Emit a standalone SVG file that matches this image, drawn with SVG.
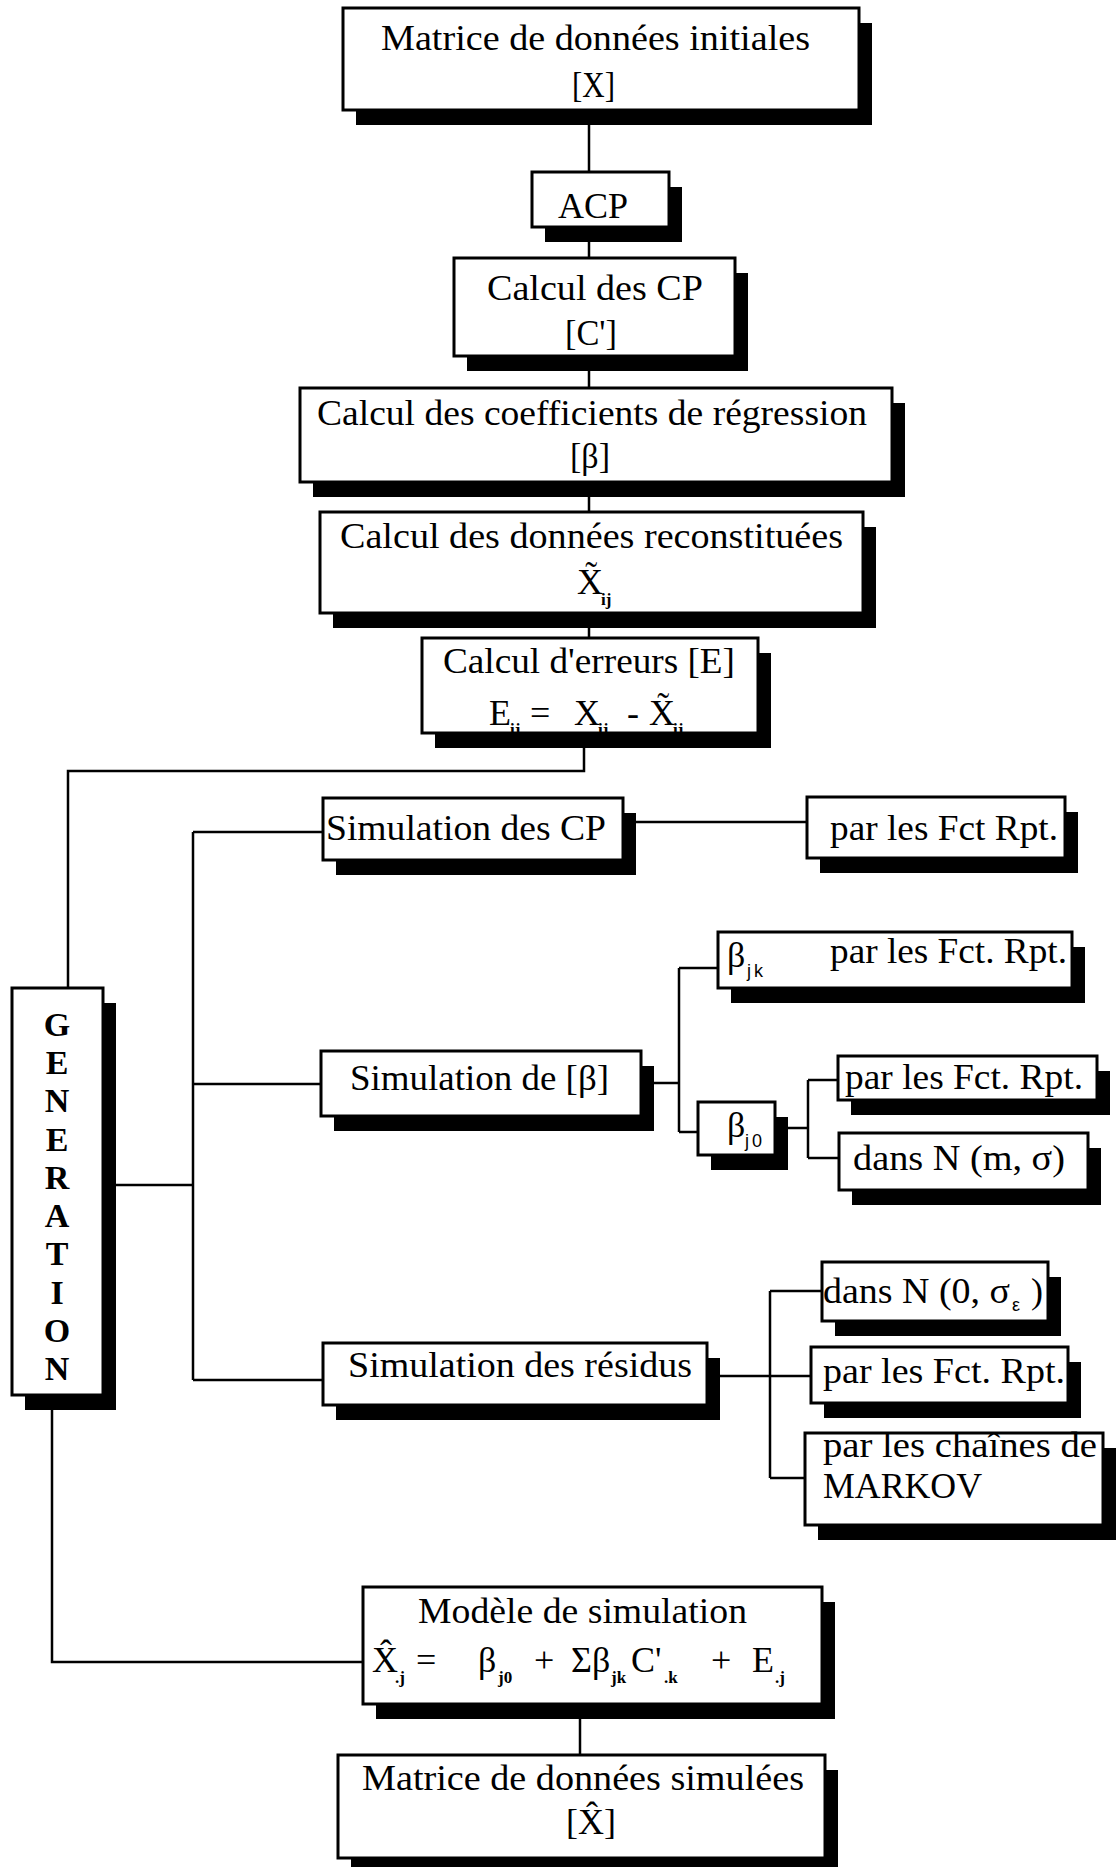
<svg xmlns="http://www.w3.org/2000/svg" width="1116" height="1867" viewBox="0 0 1116 1867">
  <style>
    .box { fill: #fff; stroke: #000; stroke-width: 3; }
    .sh { fill: #000; }
    .ln { fill: none; stroke: #000; stroke-width: 2.5; }
    text { font-family: "Liberation Serif", "Times New Roman", serif; fill: #000; }
    .t { font-size: 36px; }
    .sub { font-size: 17px; font-weight: bold; }
    .gen { font-size: 34px; font-weight: bold; text-anchor: middle; }
    .ssub { font-family: "Liberation Sans", Arial, sans-serif; font-size: 18px; letter-spacing: 3px; }
  </style>
  <rect width="1116" height="1867" fill="#fff"/>

  <!-- connectors -->
  <g id="connectors" class="ln">
    <path d="M589 110 V172 M589 227 V258 M589 356 V388 M589 482 V512 M589 613 V638"/>
    <path d="M584 733 V771 H68 V988"/>
    <path d="M116 1185 H193 M193 832 V1380 M193 832 H323 M193 1084 H321 M193 1380 H323"/>
    <path d="M636 822 H807"/>
    <path d="M654 1083 H679 M679 968 V1132 M679 968 H718 M679 1132 H698"/>
    <path d="M788 1128 H808 M808 1080 V1158 M808 1080 H838 M808 1158 H839"/>
    <path d="M720 1376 H811 M770 1291 V1478 M770 1291 H822 M770 1478 H805"/>
    <path d="M52 1395 V1662 H363"/>
    <path d="M580 1704 V1755"/>
  </g>

  <!-- initial data matrix -->
  <g id="n-matrice-init">
    <rect class="sh" x="356" y="23" width="516" height="102"/>
    <rect class="box" x="343" y="8" width="516" height="102"/>
    <text class="t" x="381" y="50" textLength="429" lengthAdjust="spacingAndGlyphs">Matrice de données initiales</text>
    <text class="t" x="572" y="97" textLength="43" lengthAdjust="spacingAndGlyphs">[X]</text>
  </g>

  <g id="n-acp">
    <rect class="sh" x="545" y="187" width="137" height="55"/>
    <rect class="box" x="532" y="172" width="137" height="55"/>
    <text class="t" x="558" y="218" textLength="70" lengthAdjust="spacingAndGlyphs">ACP</text>
  </g>

  <g id="n-calcul-cp">
    <rect class="sh" x="467" y="273" width="281" height="98"/>
    <rect class="box" x="454" y="258" width="281" height="98"/>
    <text class="t" x="487" y="300" textLength="216" lengthAdjust="spacingAndGlyphs">Calcul des CP</text>
    <text class="t" x="565" y="345" textLength="52" lengthAdjust="spacingAndGlyphs">[C']</text>
  </g>

  <g id="n-coefficients">
    <rect class="sh" x="313" y="403" width="592" height="94"/>
    <rect class="box" x="300" y="388" width="592" height="94"/>
    <text class="t" x="317" y="425" textLength="550" lengthAdjust="spacingAndGlyphs">Calcul des coefficients de régression</text>
    <text class="t" x="570" y="468" textLength="40" lengthAdjust="spacingAndGlyphs">[β]</text>
  </g>

  <g id="n-reconstituees">
    <rect class="sh" x="333" y="527" width="543" height="101"/>
    <rect class="box" x="320" y="512" width="543" height="101"/>
    <text class="t" x="340" y="548" textLength="503" lengthAdjust="spacingAndGlyphs">Calcul des données reconstituées</text>
    <text class="t" x="577" y="594">X̃</text>
    <text class="sub" x="601" y="605">ij</text>
  </g>

  <g id="n-erreurs">
    <rect class="sh" x="435" y="653" width="336" height="95"/>
    <rect class="box" x="422" y="638" width="336" height="95"/>
    <text class="t" x="443" y="673" textLength="292" lengthAdjust="spacingAndGlyphs">Calcul d'erreurs [E]</text>
    <text class="t" x="489" y="725">E</text>
    <text class="sub" x="510" y="735">ij</text>
    <text class="t" x="530" y="725">=</text>
    <text class="t" x="574" y="725">X</text>
    <text class="sub" x="598" y="735">ij</text>
    <text class="t" x="627" y="725">-</text>
    <text class="t" x="649" y="725">X̃</text>
    <text class="sub" x="673" y="735">ij</text>
  </g>

  <g id="n-generation">
    <rect class="sh" x="25" y="1003" width="91" height="407"/>
    <rect class="box" x="12" y="988" width="91" height="407"/>
    <text class="gen" x="57" y="1036">G</text>
    <text class="gen" x="57" y="1074">E</text>
    <text class="gen" x="57" y="1112">N</text>
    <text class="gen" x="57" y="1151">E</text>
    <text class="gen" x="57" y="1189">R</text>
    <text class="gen" x="57" y="1227">A</text>
    <text class="gen" x="57" y="1265">T</text>
    <text class="gen" x="57" y="1304">I</text>
    <text class="gen" x="57" y="1342">O</text>
    <text class="gen" x="57" y="1380">N</text>
  </g>

  <g id="n-sim-cp">
    <rect class="sh" x="336" y="813" width="300" height="62"/>
    <rect class="box" x="323" y="798" width="300" height="62"/>
    <text class="t" x="326" y="840" textLength="280" lengthAdjust="spacingAndGlyphs">Simulation des CP</text>
  </g>

  <g id="n-cp-fct">
    <rect class="sh" x="820" y="812" width="258" height="61"/>
    <rect class="box" x="807" y="797" width="258" height="61"/>
    <text class="t" x="830" y="840" textLength="228" lengthAdjust="spacingAndGlyphs">par les Fct Rpt.</text>
  </g>

  <g id="n-sim-beta">
    <rect class="sh" x="334" y="1066" width="320" height="65"/>
    <rect class="box" x="321" y="1051" width="320" height="65"/>
    <text class="t" x="350" y="1090" textLength="259" lengthAdjust="spacingAndGlyphs">Simulation de [β]</text>
  </g>

  <g id="n-beta-jk">
    <rect class="sh" x="731" y="947" width="354" height="56"/>
    <rect class="box" x="718" y="932" width="354" height="56"/>
    <text class="t" x="727" y="967">β</text>
    <text class="ssub" x="747" y="977">jk</text>
    <text class="t" x="830" y="963" textLength="237" lengthAdjust="spacingAndGlyphs">par les Fct. Rpt.</text>
  </g>

  <g id="n-beta-j0">
    <rect class="sh" x="711" y="1117" width="77" height="53"/>
    <rect class="box" x="698" y="1102" width="77" height="53"/>
    <text class="t" x="727" y="1137">β</text>
    <text class="ssub" x="745" y="1147">j0</text>
  </g>

  <g id="n-j0-fct">
    <rect class="sh" x="851" y="1071" width="259" height="44"/>
    <rect class="box" x="838" y="1056" width="259" height="44"/>
    <text class="t" x="845" y="1089" textLength="238" lengthAdjust="spacingAndGlyphs">par les Fct. Rpt.</text>
  </g>

  <g id="n-j0-normal">
    <rect class="sh" x="852" y="1148" width="249" height="57"/>
    <rect class="box" x="839" y="1133" width="249" height="57"/>
    <text class="t" x="853" y="1170" textLength="212" lengthAdjust="spacingAndGlyphs">dans N (m, σ)</text>
  </g>

  <g id="n-sim-residus">
    <rect class="sh" x="336" y="1358" width="384" height="62"/>
    <rect class="box" x="323" y="1343" width="384" height="62"/>
    <text class="t" x="348" y="1377" textLength="344" lengthAdjust="spacingAndGlyphs">Simulation des résidus</text>
  </g>

  <g id="n-res-normal">
    <rect class="sh" x="835" y="1277" width="226" height="59"/>
    <rect class="box" x="822" y="1262" width="226" height="59"/>
    <text class="t" x="823" y="1303" textLength="187" lengthAdjust="spacingAndGlyphs">dans N (0, σ</text>
    <text class="ssub" x="1012" y="1311" font-size="15">ε</text>
    <text class="t" x="1031" y="1303">)</text>
  </g>

  <g id="n-res-fct">
    <rect class="sh" x="824" y="1362" width="257" height="56"/>
    <rect class="box" x="811" y="1347" width="257" height="56"/>
    <text class="t" x="823" y="1383" textLength="242" lengthAdjust="spacingAndGlyphs">par les Fct. Rpt.</text>
  </g>

  <g id="n-res-markov">
    <rect class="sh" x="818" y="1448" width="298" height="92"/>
    <rect class="box" x="805" y="1433" width="298" height="92"/>
    <text class="t" x="823" y="1457" textLength="274" lengthAdjust="spacingAndGlyphs">par les chaînes de</text>
    <text class="t" x="823" y="1498" textLength="159" lengthAdjust="spacingAndGlyphs">MARKOV</text>
  </g>

  <g id="n-modele">
    <rect class="sh" x="376" y="1602" width="459" height="117"/>
    <rect class="box" x="363" y="1587" width="459" height="117"/>
    <text class="t" x="418" y="1623" textLength="329" lengthAdjust="spacingAndGlyphs">Modèle de simulation</text>
    <text class="t" x="372" y="1672">X̂</text>
    <text class="sub" x="395" y="1683">.j</text>
    <text class="t" x="416" y="1672">=</text>
    <text class="t" x="478" y="1672">β</text>
    <text class="sub" x="498" y="1683">j0</text>
    <text class="t" x="534" y="1672">+</text>
    <text class="t" x="571" y="1672">Σ</text>
    <text class="t" x="592" y="1672">β</text>
    <text class="sub" x="611" y="1683">jk</text>
    <text class="t" x="631" y="1672">C'</text>
    <text class="sub" x="664" y="1683">.k</text>
    <text class="t" x="711" y="1672">+</text>
    <text class="t" x="752" y="1672">E</text>
    <text class="sub" x="775" y="1683">.j</text>
  </g>

  <g id="n-matrice-sim">
    <rect class="sh" x="351" y="1770" width="487" height="103"/>
    <rect class="box" x="338" y="1755" width="487" height="103"/>
    <text class="t" x="362" y="1790" textLength="442" lengthAdjust="spacingAndGlyphs">Matrice de données simulées</text>
    <text class="t" x="566" y="1834">[X̂]</text>
  </g>
</svg>
